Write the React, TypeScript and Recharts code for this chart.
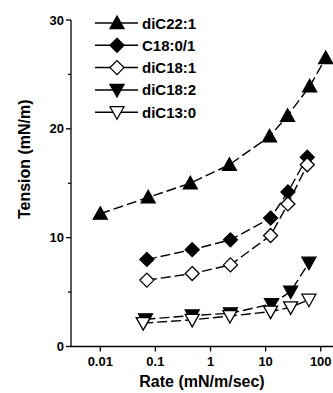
import { LineChart, Line, XAxis, YAxis, Legend } from 'recharts'

const FONT = 'Arial, "Liberation Sans", sans-serif'

// rates (mN/m/sec) and tensions (mN/m)
const ratesC22 = [0.01, 0.074, 0.43, 2.2, 11.8, 25, 63, 123]
const tensionC22 = [12.2, 13.7, 15.0, 16.7, 19.3, 21.2, 23.9, 26.5]

const ratesC180 = [0.07, 0.465, 2.3, 12.3, 25.4, 57]
const tensionC180 = [8.0, 8.9, 9.8, 11.8, 14.2, 17.4]

const ratesC181 = [0.07, 0.465, 2.3, 12.3, 25.4, 57]
const tensionC181 = [6.1, 6.7, 7.5, 10.2, 13.1, 16.7]

const ratesC182 = [0.066, 0.465, 2.3, 12.8, 28.5, 61]
const tensionC182 = [2.5, 2.85, 3.05, 3.9, 5.05, 7.7]

const ratesC130 = [0.06, 0.465, 2.25, 12.3, 28.5, 61]
const tensionC130 = [2.15, 2.45, 2.8, 3.2, 3.6, 4.3]

const seriesNames = ['diC22:1', 'C18:0/1', 'diC18:1', 'diC18:2', 'diC13:0']

const xTicks = [0.01, 0.1, 1, 10, 100]
const yTicks = [0, 5, 10, 15, 20, 25, 30]

type Shape = 'up' | 'diamond' | 'down'

const toPoints = (xs: number[], ys: number[]) => xs.map((x, i) => ({ x, y: ys[i] }))

const series = [
  { name: seriesNames[0], data: toPoints(ratesC22, tensionC22), shape: 'up' as Shape, filled: true },
  { name: seriesNames[1], data: toPoints(ratesC180, tensionC180), shape: 'diamond' as Shape, filled: true },
  { name: seriesNames[2], data: toPoints(ratesC181, tensionC181), shape: 'diamond' as Shape, filled: false },
  { name: seriesNames[3], data: toPoints(ratesC182, tensionC182), shape: 'down' as Shape, filled: true },
  { name: seriesNames[4], data: toPoints(ratesC130, tensionC130), shape: 'down' as Shape, filled: false },
]

function Marker({ cx, cy, shape, filled }: { cx: number; cy: number; shape: Shape; filled: boolean }) {
  let pts = ''
  if (shape === 'up') pts = `${cx},${cy - 7} ${cx + 7},${cy + 5.5} ${cx - 7},${cy + 5.5}`
  else if (shape === 'down') pts = `${cx - 7},${cy - 5.5} ${cx + 7},${cy - 5.5} ${cx},${cy + 7}`
  else pts = `${cx},${cy - 7} ${cx + 7},${cy} ${cx},${cy + 7} ${cx - 7},${cy}`
  return (
    <polygon
      points={pts}
      fill={filled ? '#000' : '#fff'}
      stroke="#000"
      strokeWidth={1.3}
      strokeLinejoin="miter"
    />
  )
}

function LegendBox() {
  return (
    <svg width={125} height={112} style={{ display: 'block' }}>
      {series.map((s, i) => {
        const y = 10 + i * 22.3
        return (
          <g key={s.name}>
            <line x1={0} x2={43} y1={y} y2={y} stroke="#000" strokeWidth={1.5} />
            <Marker cx={22} cy={y} shape={s.shape} filled={s.filled} />
            <text
              x={47}
              y={y}
              dominantBaseline="central"
              fontFamily={FONT}
              fontWeight="bold"
              fontSize={15}
              fill="#000"
            >
              {s.name}
            </text>
          </g>
        )
      })}
    </svg>
  )
}

function YTick(props: any) {
  const { x, y, payload } = props
  const axisX = x + 6
  const major = payload.value % 10 === 0
  return (
    <g>
      <line x1={axisX} x2={axisX - (major ? 5 : 3)} y1={y} y2={y} stroke="#000" strokeWidth={1.3} />
      {major && (
        <text
          x={x - 1}
          y={y}
          textAnchor="end"
          dominantBaseline="central"
          fontFamily={FONT}
          fontWeight="bold"
          fontSize={13}
          fill="#000"
        >
          {payload.value}
        </text>
      )}
    </g>
  )
}

export default function App() {
  return (
    <div style={{ position: 'absolute', left: 0, top: 0 }}>
      <LineChart width={333} height={393} margin={{ top: 20, right: 0, bottom: 0, left: 0 }}>
        <XAxis
          dataKey="x"
          type="number"
          scale="log"
          domain={[0.00294, 167]}
          allowDataOverflow
          ticks={xTicks}
          tickFormatter={(v) => String(v)}
          height={46.5}
          tickSize={5}
          tickMargin={5}
          axisLine={{ stroke: '#000', strokeWidth: 1.3 }}
          tickLine={{ stroke: '#000', strokeWidth: 1.3 }}
          tick={{ fontFamily: FONT, fontWeight: 'bold', fontSize: 13, fill: '#000' }}
          label={{
            content: (p: any) => {
              const vb = p.viewBox
              return (
                <text
                  x={vb.x + vb.width / 2}
                  y={vb.y + vb.height - 6}
                  textAnchor="middle"
                  fontFamily={FONT}
                  fontWeight="bold"
                  fontSize={16}
                  fill="#000"
                >
                  Rate (mN/m/sec)
                </text>
              )
            },
          }}
        />
        <YAxis
          type="number"
          domain={[0, 30]}
          ticks={yTicks}
          width={71}
          tickSize={4}
          tickMargin={2}
          tickLine={false}
          axisLine={{ stroke: '#000', strokeWidth: 1.3 }}
          tick={<YTick />}
          label={{
            content: (p: any) => {
              const vb = p.viewBox
              const cx = vb.x + 24
              const cy = vb.y + vb.height / 2 - 24
              return (
                <text
                  x={cx}
                  y={cy}
                  transform={`rotate(-90, ${cx}, ${cy})`}
                  textAnchor="middle"
                  dominantBaseline="central"
                  fontFamily={FONT}
                  fontWeight="bold"
                  fontSize={16}
                  fill="#000"
                >
                  Tension (mN/m)
                </text>
              )
            },
          }}
        />
        <Legend
          content={<LegendBox />}
          layout="vertical"
          align="center"
          verticalAlign="middle"
          wrapperStyle={{ left: 95, top: 13, width: 125, height: 112 }}
        />
        {series.map((s) => (
          <Line
            key={s.name}
            name={s.name}
            data={s.data}
            dataKey="y"
            type="linear"
            stroke="#000"
            strokeWidth={1.4}
            strokeDasharray="10 4"
            isAnimationActive={false}
            activeDot={false}
            dot={(p: any) => (
              <Marker key={`${s.name}-${p.index}`} cx={p.cx} cy={p.cy} shape={s.shape} filled={s.filled} />
            )}
          />
        ))}
      </LineChart>
    </div>
  )
}
